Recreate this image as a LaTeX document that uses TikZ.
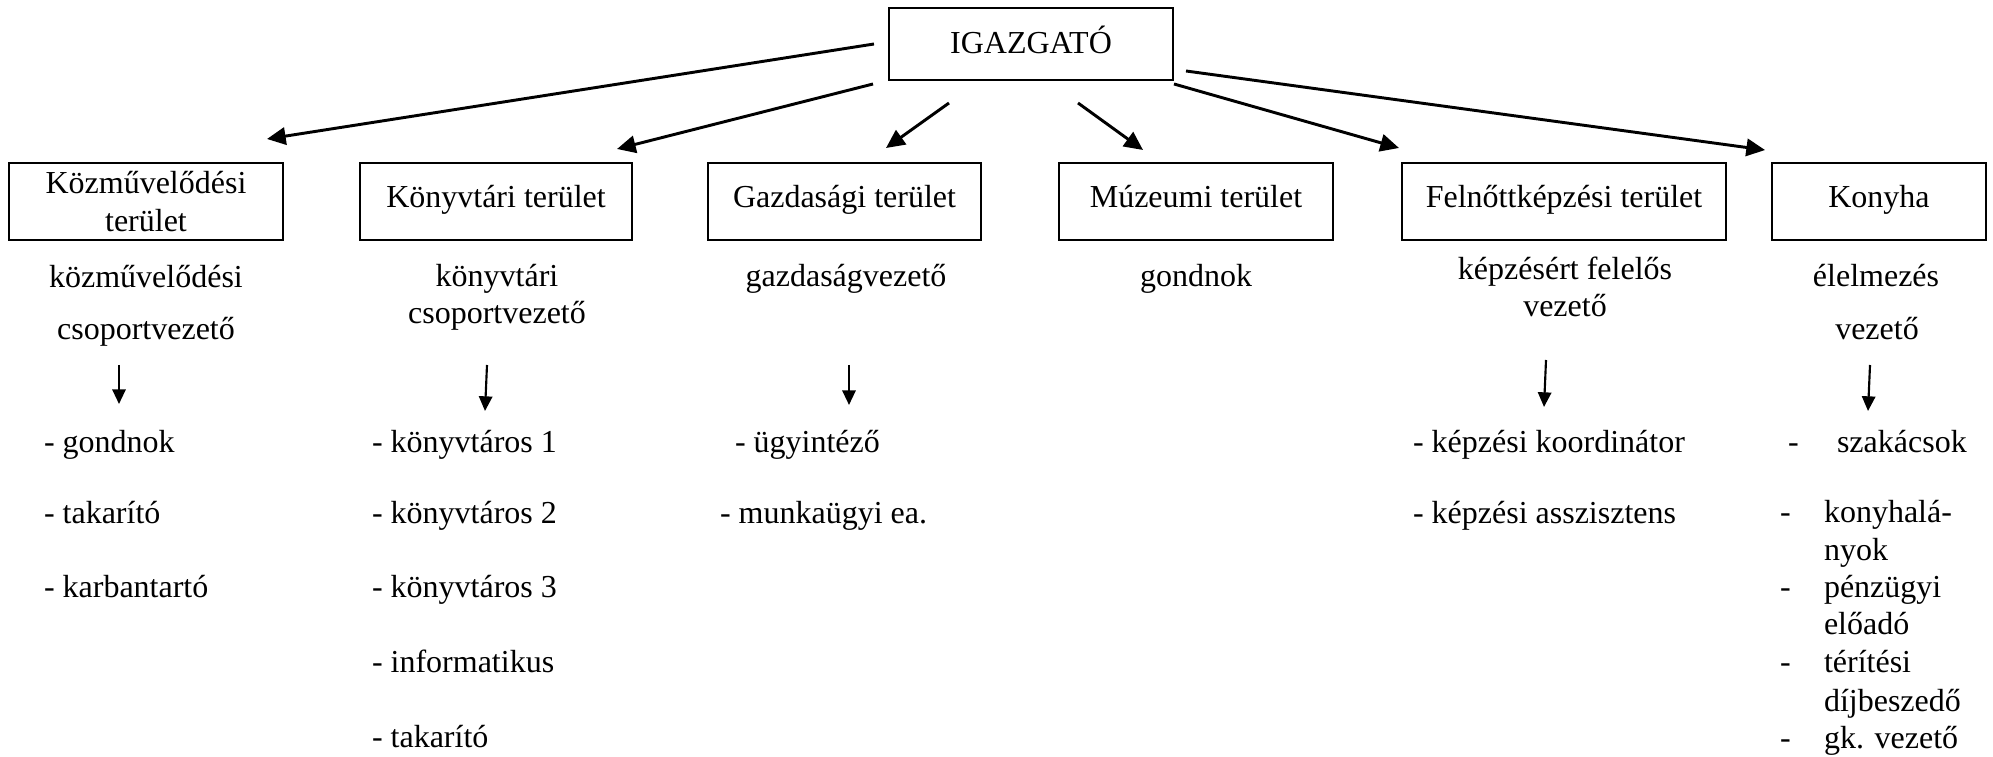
\documentclass[tikz,border=0pt]{standalone}
\usepackage{fontspec}
\setmainfont{Liberation Serif}
\usetikzlibrary{arrows.meta}
\begin{document}
\begin{tikzpicture}[x=0.375pt,y=-0.375pt,
  every node/.style={font=\fontsize{12}{14.3}\selectfont, inner sep=0pt, outer sep=0pt},
  boxbase/.style={draw, line width=0.8pt, minimum height=77*0.375pt, align=center},
  box/.style={boxbase, text height=0.7em, text depth=0.22em},
  mainarrow/.style={line width=1.1pt, -{Triangle[length=7pt,width=6.5pt]}},
  subarrow/.style={line width=0.8pt, -{Triangle[length=5.5pt,width=5pt]}},
  txt/.style={anchor=base},
  item/.style={anchor=base west}]
\useasboundingbox (0,0) rectangle (1993,757);

% boxes
\node[boxbase, minimum width=284*0.375pt, minimum height=72*0.375pt, text height=0.9em, text depth=0.22em] (igaz) at (1031,44) {IGAZGATÓ};
\node[boxbase, minimum width=274*0.375pt] (kozm) at (146,201.5) {Közművelődési\\terület};
\node[box, minimum width=272*0.375pt] (konyvt) at (496,201.5) {Könyvtári terület};
\node[box, minimum width=273*0.375pt] (gazd) at (844.5,201.5) {Gazdasági terület};
\node[box, minimum width=274*0.375pt] (muz) at (1196,201.5) {Múzeumi terület};
\node[box, minimum width=324*0.375pt] (feln) at (1564,201.5) {Felnőttképzési terület};
\node[box, minimum width=214*0.375pt] (konyha) at (1879,201.5) {Konyha};

% main arrows
\coordinate (s1) at (874,44);   \coordinate (e1) at (267,139);
\coordinate (s2) at (873,84);   \coordinate (e2) at (617,149);
\coordinate (s3) at (949,103);  \coordinate (e3) at (886,148);
\coordinate (s4) at (1078,103); \coordinate (e4) at (1143,150);
\coordinate (s5) at (1174,84);  \coordinate (e5) at (1399,148);
\coordinate (s6) at (1186,71);  \coordinate (e6) at (1765,150);
\foreach \i in {1,...,6} \draw[mainarrow] (s\i) -- (e\i);

% leaders
\node[txt] (kozmA) at (146,288) {közművelődési};
\node[txt] (kozmB) at (146,340) {csoportvezető};
\node[txt] (konyvtA) at (497,287) {könyvtári};
\node[txt] (konyvtB) at (497,324) {csoportvezető};
\node[txt] (gazdA) at (846,287) {gazdaságvezető};
\node[txt] (muzA) at (1196,287) {gondnok};
\node[txt] (felnA) at (1565,280) {képzésért felelős};
\node[txt] (felnB) at (1565,317) {vezető};
\node[txt] (konyhaA) at (1876,287) {élelmezés};
\node[txt] (konyhaB) at (1877,340) {vezető};

% small arrows
\coordinate (a1) at (119,365);  \coordinate (b1) at (119,404);
\coordinate (a2) at (487,365);  \coordinate (b2) at (485,411);
\coordinate (a3) at (849,365);  \coordinate (b3) at (849,405);
\coordinate (a4) at (1546,360); \coordinate (b4) at (1544,407);
\coordinate (a5) at (1870,365); \coordinate (b5) at (1868,411);
\foreach \i in {1,...,5} \draw[subarrow] (a\i) -- (b\i);

% lists
\node[item] (k1) at (44,453) {- gondnok};
\node[item] (k2) at (44,524) {- takarító};
\node[item] (k3) at (44,598) {- karbantartó};

\node[item] (l1) at (372,453) {- könyvtáros 1};
\node[item] (l2) at (372,524) {- könyvtáros 2};
\node[item] (l3) at (372,598) {- könyvtáros 3};
\node[item] (l4) at (372,673) {- informatikus};
\node[item] (l5) at (372,747) {- takarító};

\node[item] (g1) at (735,453) {- ügyintéző};
\node[item] (g2) at (720,524) {- munkaügyi ea.};

\node[item] (f1) at (1413,453) {- képzési koordinátor};
\node[item] (f2) at (1413,524) {- képzési asszisztens};

\node[item] (d1) at (1788,453) {-};
\node[item] (t1) at (1837,453) {szakácsok};
\node[item] (d2) at (1780,523) {-};
\node[item] (t2) at (1824,523) {konyhalá-};
\node[item] (t2b) at (1824,561) {nyok};
\node[item] (d3) at (1780,598) {-};
\node[item] (t3) at (1824,598) {pénzügyi};
\node[item] (t3b) at (1824,635) {előadó};
\node[item] (d4) at (1780,673) {-};
\node[item] (t4) at (1824,673) {térítési};
\node[item] (t4b) at (1824,711) {díjbeszedő};
\node[item] (d5) at (1780,748) {-};
\node[item] (t5) at (1824,748) {gk. vezető};
\end{tikzpicture}
\end{document}
